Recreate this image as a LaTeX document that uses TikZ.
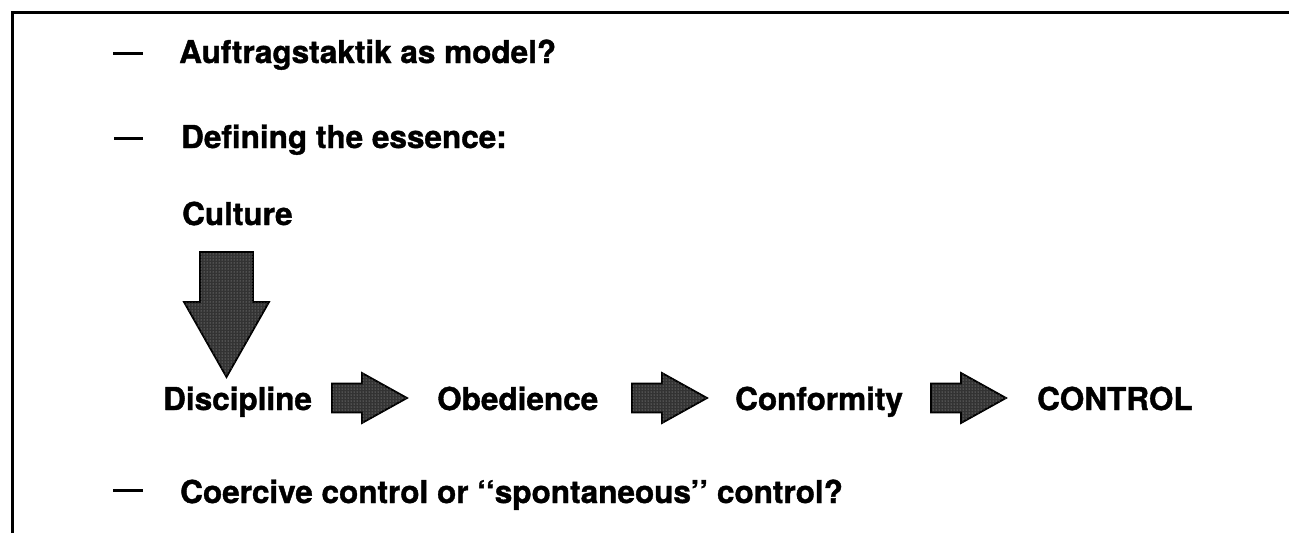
\documentclass[tikz,border=0pt]{standalone}
\usepackage{fontspec}
\setmainfont{TeX Gyre Heros}[BoldFeatures={FakeBold=1.2}]
\usetikzlibrary{patterns}
\tikzset{
  txt/.style={anchor=base west, inner sep=0pt, font=\fontsize{31.5}{38}\selectfont\bfseries},
  bar/.style={line width=3pt},
  frame/.style={line width=3pt},
  blockarrow/.style={fill=black!80, draw=black, line width=1.8pt, line join=miter},
  dotted fill/.style={pattern=dots, pattern color=white!70!black},
  pics/rarr/.style={code={
    \path[blockarrow] (0,-14.5) -- (30,-14.5) -- (30,-25) -- (75,0) -- (30,25) -- (30,14.5) -- (0,14.5) -- cycle;
    \path[dotted fill] (0,-14.5) -- (30,-14.5) -- (30,-25) -- (75,0) -- (30,25) -- (30,14.5) -- (0,14.5) -- cycle;
  }}
}
\begin{document}
\begin{tikzpicture}[x=1pt,y=-1pt]
\useasboundingbox (0,0) rectangle (1289,533);
% frame (top and left only)
\draw[frame] (12.5,533) -- (12.5,12.5) -- (1289,12.5);
% bullet lines
\draw[bar] (113,53) -- (143,53);
\node[txt] (l1) at (179,63) {Auftragstaktik as model?};
\draw[bar] (114,138) -- (143,138);
\node[txt] (l2) at (181,148) {Defining the essence:};
\node[txt] (cul) at (182,225) {Culture};
% down arrow
\path[blockarrow] (200,252) -- (253,252) -- (253,302) -- (269,302) -- (226.5,377) -- (184,302) -- (200,302) -- cycle;
\path[dotted fill] (200,252) -- (253,252) -- (253,302) -- (269,302) -- (226.5,377) -- (184,302) -- (200,302) -- cycle;
% chain
\node[txt] (dis) at (163,410) {Discipline};
\pic at (332,398) {rarr};
\node[txt] (obe) at (437,410) {Obedience};
\pic at (632,398) {rarr};
\node[txt] (con) at (735,410) {Conformity};
\pic at (931,398) {rarr};
\node[txt] (ctl) at (1037,410) {CONTROL};
% last bullet
\draw[bar] (113,490) -- (143,490);
\node[txt] (l3) at (180,503) {Coercive control or {`}{`}spontaneous{'}{'} control?};
\end{tikzpicture}
\end{document}
